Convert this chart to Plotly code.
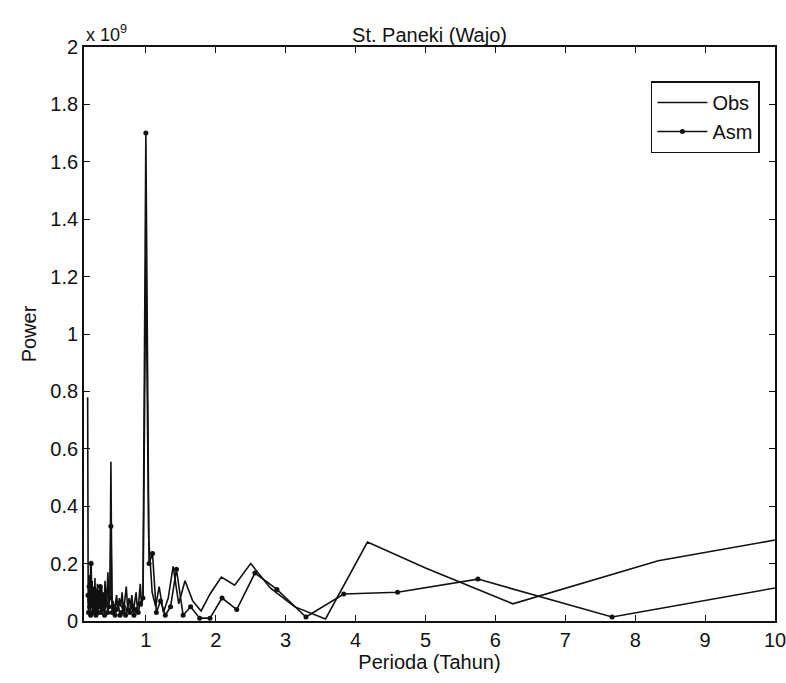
import plotly.graph_objects as go

# Periodogram, power in units of 1e9
obs_period = [0.167, 0.175, 0.183, 0.19, 0.197, 0.204, 0.211, 0.218, 0.225, 0.232,
              0.24, 0.248, 0.256, 0.264, 0.272, 0.28, 0.289, 0.298, 0.307, 0.316,
              0.326, 0.336, 0.347, 0.357, 0.368, 0.379, 0.391, 0.403, 0.416, 0.429,
              0.443, 0.457, 0.472, 0.487, 0.50, 0.515, 0.53, 0.547, 0.564, 0.581,
              0.60, 0.62, 0.64, 0.66, 0.68, 0.70, 0.72, 0.74, 0.76, 0.78,
              0.80, 0.82, 0.84, 0.86, 0.88, 0.90, 0.92, 0.94, 0.96,
              1.00, 1.04, 1.09, 1.14, 1.19, 1.25, 1.32, 1.39, 1.47, 1.56, 1.67, 1.79, 1.92,
              2.08, 2.27, 2.50, 2.78, 3.125, 3.57, 4.17, 5.00, 6.25, 8.33, 12.5]
obs_power = [0.78, 0.06, 0.13, 0.04, 0.16, 0.08, 0.21, 0.05, 0.11, 0.14,
             0.03, 0.09, 0.12, 0.06, 0.15, 0.04, 0.10, 0.07, 0.13, 0.05,
             0.09, 0.11, 0.04, 0.08, 0.12, 0.06, 0.10, 0.05, 0.14, 0.07,
             0.09, 0.17, 0.06, 0.10, 0.555, 0.04, 0.07, 0.03, 0.06, 0.09,
             0.04, 0.08, 0.05, 0.10, 0.03, 0.07, 0.12, 0.04, 0.08, 0.05,
             0.09, 0.03, 0.06, 0.10, 0.04, 0.07, 0.13, 0.05, 0.09,
             1.28, 0.29, 0.10, 0.05, 0.12, 0.03, 0.08, 0.19, 0.06, 0.14, 0.07, 0.035, 0.095,
             0.153, 0.125, 0.20, 0.115, 0.05, 0.007, 0.275, 0.185, 0.06, 0.21, 0.39]

asm_period = [0.172, 0.18, 0.188, 0.195, 0.203, 0.21, 0.218, 0.226, 0.234, 0.242,
              0.25, 0.259, 0.268, 0.277, 0.286, 0.295, 0.305, 0.315, 0.325, 0.336,
              0.347, 0.359, 0.371, 0.383, 0.396, 0.41, 0.424, 0.438, 0.454, 0.47,
              0.485, 0.50, 0.52, 0.54, 0.56, 0.58, 0.605, 0.63, 0.655, 0.68,
              0.71, 0.74, 0.77, 0.80, 0.83, 0.86, 0.89, 0.92, 0.958,
              1.00, 1.045, 1.095, 1.15, 1.21, 1.278, 1.353, 1.4375, 1.533, 1.64, 1.77, 1.917,
              2.09, 2.30, 2.56, 2.875, 3.29, 3.83, 4.60, 5.75, 7.67, 11.5]
asm_power = [0.09, 0.03, 0.12, 0.05, 0.08, 0.02, 0.20, 0.06, 0.10, 0.03,
             0.07, 0.11, 0.04, 0.09, 0.02, 0.06, 0.10, 0.03, 0.08, 0.05,
             0.12, 0.03, 0.07, 0.04, 0.09, 0.02, 0.06, 0.10, 0.03, 0.05,
             0.08, 0.33, 0.03, 0.05, 0.02, 0.04, 0.06, 0.02, 0.03, 0.05,
             0.02, 0.04, 0.03, 0.05, 0.02, 0.04, 0.03, 0.06, 0.08,
             1.70, 0.20, 0.235, 0.03, 0.07, 0.02, 0.05, 0.18, 0.02, 0.05, 0.01, 0.01,
             0.08, 0.04, 0.167, 0.11, 0.014, 0.094, 0.10, 0.146, 0.014, 0.18]

x_ticks = [1, 2, 3, 4, 5, 6, 7, 8, 9, 10]
y_ticks = [0, 0.2, 0.4, 0.6, 0.8, 1, 1.2, 1.4, 1.6, 1.8, 2]

FONT = "Liberation Sans, Arial, sans-serif"
INK = "#111111"

fig = go.Figure()
fig.add_trace(go.Scatter(x=obs_period, y=obs_power, mode="lines", name="Obs",
                         line=dict(color=INK, width=1.6)))
fig.add_trace(go.Scatter(x=asm_period, y=asm_power, mode="lines+markers", name="Asm",
                         line=dict(color=INK, width=1.6),
                         marker=dict(color=INK, size=5)))

axis_common = dict(showgrid=False, zeroline=False, showline=True, linecolor=INK,
                   linewidth=1.8, mirror="ticks", ticks="inside", ticklen=6,
                   tickcolor=INK, automargin=False, ticklabeloverflow="allow",
                   tickfont=dict(family=FONT, size=20, color=INK))

fig.update_xaxes(range=[0.115, 10], tickvals=x_ticks,
                 title=dict(text="Perioda (Tahun)", font=dict(family=FONT, size=20, color=INK),
                            standoff=4),
                 **axis_common)
fig.update_yaxes(range=[0, 2], tickvals=y_ticks,
                 title=dict(text="Power", font=dict(family=FONT, size=20, color=INK),
                            standoff=8),
                 **axis_common)

fig.add_annotation(xref="paper", yref="paper", x=0.0, y=1.0, xanchor="left", yanchor="bottom",
                   text="x 10<sup>9</sup>", showarrow=False, yshift=0,
                   font=dict(family=FONT, size=18, color=INK))

fig.update_layout(
    width=786, height=683,
    margin=dict(l=84, r=11, t=47, b=62),
    paper_bgcolor="white", plot_bgcolor="white",
    title=dict(text="St. Paneki (Wajo)", xref="paper", x=0.5, xanchor="center",
               yref="container", y=0.949, yanchor="middle",
               font=dict(family=FONT, size=20, color=INK)),
    showlegend=True,
    legend=dict(x=0.978, y=0.94, xanchor="right", yanchor="top", bgcolor="white",
                bordercolor=INK, borderwidth=1.6, itemwidth=50,
                font=dict(family=FONT, size=20, color=INK)),
)

# remove the browser's default body margin so the figure fills the window exactly
fig.write_html("out.html", config={"displayModeBar": False},
               post_script="document.body.style.margin='0';document.body.style.overflow='hidden';")
